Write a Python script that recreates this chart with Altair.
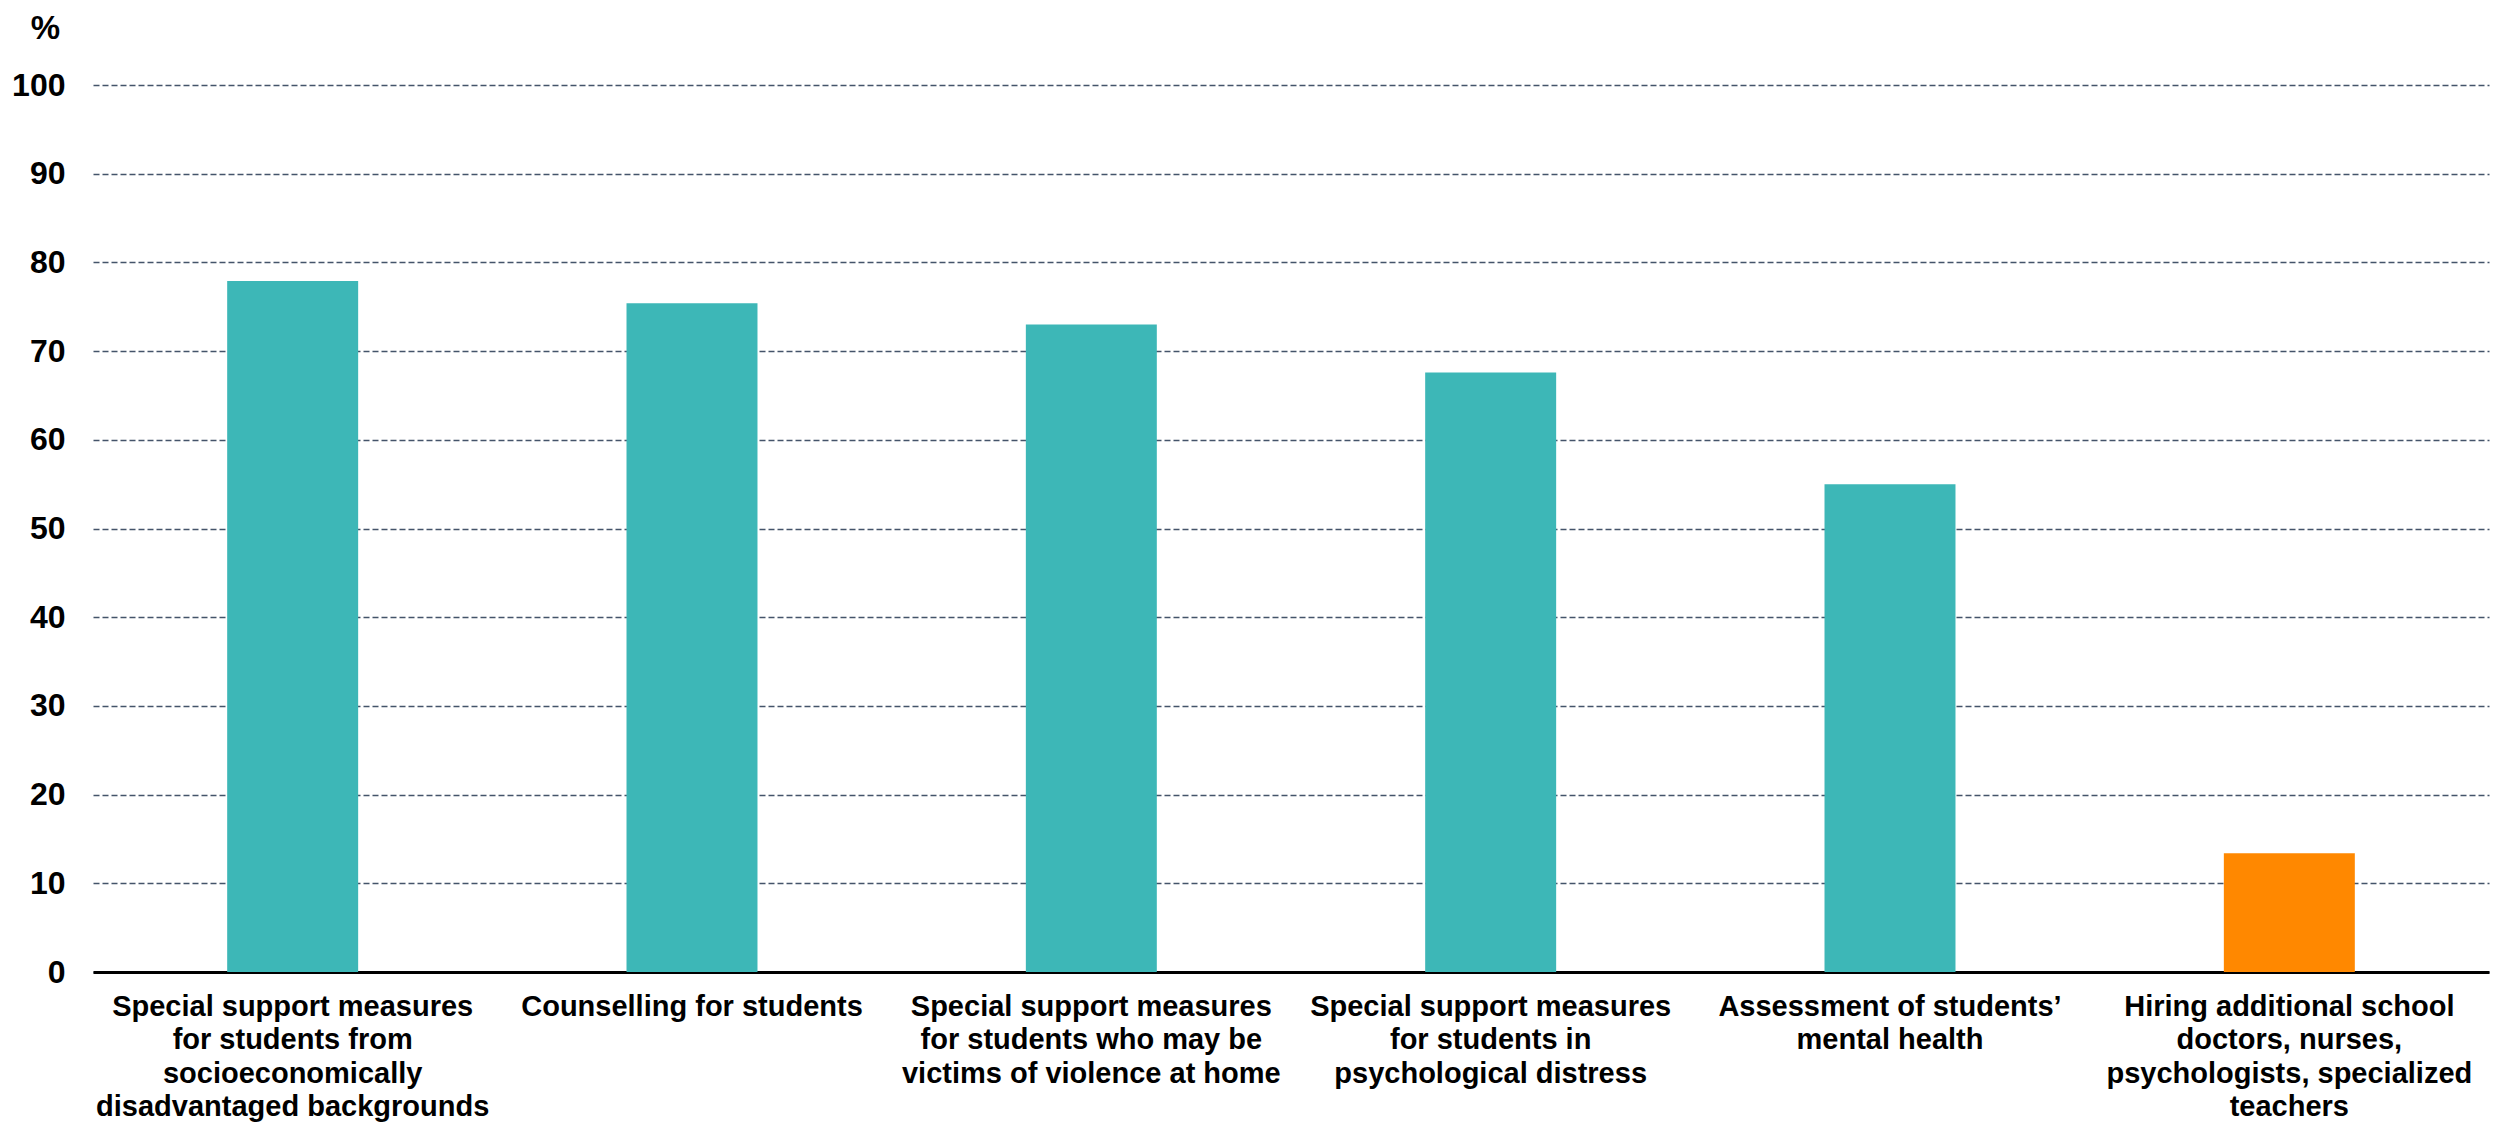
import altair as alt
import pandas as pd

categories = [
    "Special support measures|for students from|socioeconomically|disadvantaged backgrounds",
    "Counselling for students",
    "Special support measures|for students who may be|victims of violence at home",
    "Special support measures|for students in|psychological distress",
    "Assessment of students\u2019|mental health",
    "Hiring additional school|doctors, nurses,|psychologists, specialized|teachers",
]
values = [77.9, 75.4, 73.0, 67.6, 55.0, 13.4]
y_ticks = [0, 10, 20, 30, 40, 50, 60, 70, 80, 90, 100]
highlight = categories[5]

df = pd.DataFrame({"category": categories, "value": values})

FONT = "Liberation Sans"

chart = alt.Chart(df).mark_bar().encode(
    x=alt.X(
        "category:N",
        sort=categories,
        scale=alt.Scale(paddingInner=0.672, paddingOuter=0.336),
        axis=alt.Axis(
            title=None,
            labelExpr="split(datum.label, '|')",
            labelAngle=0,
            labelFont=FONT,
            labelFontWeight="bold",
            labelFontSize=29,
            labelLineHeight=33.5,
            labelColor="black",
            labelPadding=20,
            labelLimit=600,
            labelOverlap=False,
            ticks=False,
            domainColor="black",
            domainWidth=3,
            grid=False,
        ),
    ),
    y=alt.Y(
        "value:Q",
        scale=alt.Scale(domain=[0, 100], nice=False),
        axis=alt.Axis(
            values=y_ticks,
            title="%",
            titleAngle=0,
            titleAlign="center",
            titleBaseline="alphabetic",
            titleX=-48,
            titleY=-47,
            titleFont=FONT,
            titleFontWeight="bold",
            titleFontSize=33,
            titleColor="black",
            labelFont=FONT,
            labelFontWeight="bold",
            labelFontSize=32,
            labelColor="black",
            labelPadding=28,
            ticks=False,
            domain=False,
            grid=True,
            gridColor="#44546A",
            gridDash=[6, 3],
            gridWidth=1.5,
        ),
    ),
    color=alt.condition(
        alt.datum.category == highlight, alt.value("#FF8800"), alt.value("#3DB7B7")
    ),
).properties(
    width=2396,
    height=887,
    padding={"left": 85, "top": 77, "right": 7, "bottom": 150},
    autosize=alt.AutoSizeParams(type="none"),
).configure(background="white").configure_view(stroke=None, strokeWidth=0)

chart.save("out.html", embed_options={"renderer": "svg", "actions": False})
